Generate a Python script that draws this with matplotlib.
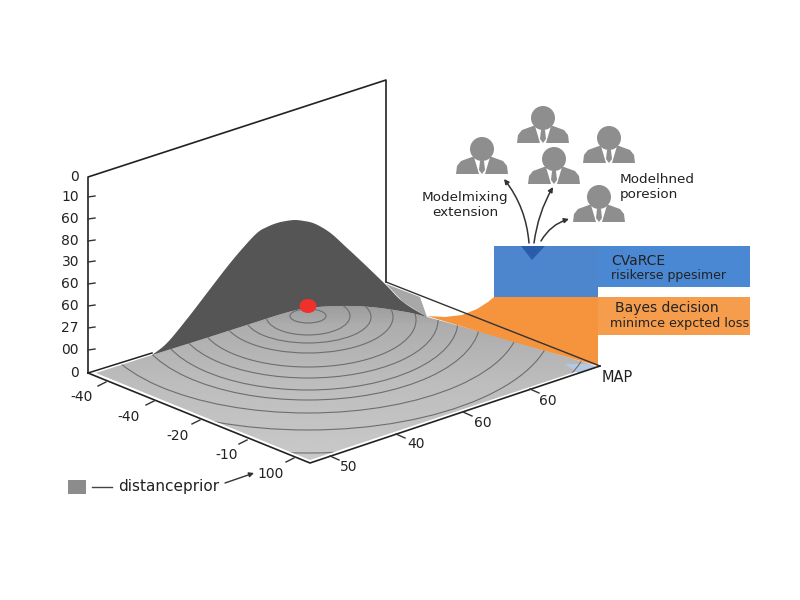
import numpy as np
import matplotlib
matplotlib.use('Agg')
from matplotlib import pyplot as plt
from matplotlib.patches import Polygon, Ellipse, Rectangle, FancyArrowPatch

# everything in pixels
wall_top = [(88, 373), (88, 177), (386, 80), (386, 282)]

z_ticks = [177, 197, 219, 241, 262, 284, 306, 328, 350, 373]
z_labels = ['0', '10', '60', '80', '30', '60', '60', '27', '00', '0']

left_labels = ['-40', '-40', '-20', '-10', '100']
left_pos = [(82, 397), (129, 417), (178, 436), (227, 455), (271, 474)]
left_ticks = [(106, 382), (154, 401), (200, 420), (247, 440), (294, 458)]
right_labels = ['50', '40', '60', '60']
right_pos = [(349, 467), (416, 444), (483, 423), (548, 401)]
right_ticks = [(330, 456), (396, 434), (463, 412), (530, 389)]

hump_top = [(152, 355), (167, 343), (187, 319), (207, 293), (227, 267), (242, 249), (257, 233),
            (267, 227), (277, 223), (286, 221), (295, 220), (304, 221), (313, 223), (323, 228),
            (333, 235), (346, 247), (360, 260), (385, 284), (403, 302), (427, 317)]
surf_top = [(152, 355), (200, 340), (250, 324), (285, 313), (308, 308), (340, 306), (370, 307),
            (400, 311), (427, 317), (520, 343), (590, 364)]
floor_low = [(590, 364), (584, 369), (310, 460), (96, 373), (152, 355)]
back_band = [(386, 284), (420, 297), (427, 317), (403, 302)]

ring_cy = [316, 316, 317, 317, 320, 320, 321, 321, 320, 322, 325]
ring_a = [18, 42, 63, 85, 108, 130, 150, 172, 212, 245, 285]
ring_b = [7, 19, 26, 36, 47, 58, 69, 79, 93, 108, 128]

orange_wedge = [(494, 297), (598, 297), (598, 366), (560, 355), (500, 338), (427, 316), (445, 317),
                (462, 315), (477, 309), (488, 302)]
blue_left = (494, 246, 104, 51)
blue_right = (598, 246, 152, 41)
orange_right = (598, 297, 152, 38)

people = [(482, 149), (543, 118), (609, 138), (554, 159), (599, 197)]
person_body = [(-26, 25), (-25, 17), (-21, 12), (-10, 8), (10, 8), (21, 12), (25, 17), (26, 25)]
person_shirt = [(-8, 8), (8, 8), (3, 25), (-3, 25)]
person_tie = [(-2, 12), (2, 12), (3, 21), (0, 25), (-3, 21)]

arrows = [((529, 243), (504, 179), 0.15), ((534, 243), (553, 187), -0.1), ((541, 241), (569, 219), -0.2)]


def smooth(pts, steps=8):
    # catmull-rom through the read points, only so outlines are not jagged
    p = np.array(pts, dtype=float)
    p = np.vstack([p[0], p, p[-1]])
    out = []
    for i in range(1, len(p) - 2):
        for t in np.linspace(0, 1, steps, endpoint=False):
            out.append(0.5 * (2 * p[i] + (p[i + 1] - p[i - 1]) * t
                              + (2 * p[i - 1] - 5 * p[i] + 4 * p[i + 1] - p[i + 2]) * t ** 2
                              + (3 * p[i] - p[i - 1] - 3 * p[i + 1] + p[i + 2]) * t ** 3))
    out.append(p[-1])
    return [tuple(q) for q in out]


fig = plt.figure(figsize=(8, 6), dpi=100)
ax = fig.add_axes([0, 0, 1, 1])
plt.rcParams['font.family'] = ['DejaVu Sans']

# surface with soft gradient
surf_edge = smooth(surf_top)
surf = Polygon(surf_edge + floor_low[1:], closed=True, fc='none', ec='none')
ax.add_patch(surf)
grad = np.interp(np.linspace(0, 1, 64), [0, 0.15, 0.5, 1], [0.60, 0.68, 0.74, 0.79]).reshape(-1, 1)
im = ax.imshow(grad, cmap='gray', vmin=0, vmax=1, extent=(80, 610, 465, 300), aspect='auto', zorder=2)
im.set_clip_path(surf)
ax.set_xlim(0, 800)
ax.set_ylim(600, 0)
ax.axis('off')

ax.add_patch(Polygon(back_band, closed=True, fc='#a8a8a8', ec='none', zorder=2))
ax.add_patch(Polygon([(565, 364), (590, 364), (597, 367), (578, 373)], closed=True, fc='#b4c8e0', ec='none', zorder=2))

# rings
for cy, a, b in zip(ring_cy, ring_a, ring_b):
    e = Ellipse((308, cy), 2 * a, 2 * b, fc='none', ec='#6e6e6e', lw=0.8, zorder=3)
    ax.add_patch(e)
    e.set_clip_path(surf)

# dark hump
ax.add_patch(Polygon(smooth(hump_top) + surf_edge[:65][::-1], closed=True, fc='#555555', ec='none', zorder=4))

# orange funnel over the surface
ax.add_patch(Polygon(orange_wedge, closed=True, fc='#f5943c', ec='none', zorder=5))

# axes lines
ax.plot(*zip(*wall_top), color='#222222', lw=1.2, zorder=6)
ax.plot([88, 152], [373, 353], color='#222222', lw=1.1, zorder=6)
ax.plot([386, 600], [282, 366], color='#333333', lw=1.0, zorder=6)
ax.plot([88, 310, 600], [373, 463, 366], color='#222222', lw=1.2, zorder=6)

for y, lab in zip(z_ticks, z_labels):
    if y not in (177, 373):
        ax.plot([88, 95], [y, y - 1], color='#333333', lw=1, zorder=6)
    ax.text(79, y, lab, ha='right', va='center', fontsize=10, color='#222222')

for (x, y), (tx, ty), lab in zip(left_ticks, left_pos, left_labels):
    ax.plot([x, x - 8], [y, y + 4], color='#333333', lw=1, zorder=6)
    ax.text(tx, ty, lab, ha='center', va='center', fontsize=10, color='#222222')
for (x, y), (tx, ty), lab in zip(right_ticks, right_pos, right_labels):
    ax.plot([x, x + 9], [y, y + 4], color='#333333', lw=1, zorder=6)
    ax.text(tx, ty, lab, ha='center', va='center', fontsize=10, color='#222222')
ax.text(617, 378, 'MAP', ha='center', va='center', fontsize=10.5, color='#222222')

# red point
ax.add_patch(Ellipse((308, 306), 17, 14, fc='#f0302a', ec='none', zorder=7))

# boxes
ax.add_patch(Rectangle(blue_left[:2], blue_left[2], blue_left[3], fc='#4d86cc', ec='none', zorder=5))
ax.add_patch(Rectangle(blue_right[:2], blue_right[2], blue_right[3], fc='#4a88d4', ec='none', zorder=5))
ax.add_patch(Rectangle(orange_right[:2], orange_right[2], orange_right[3], fc='#f59d4c', ec='none', zorder=5))
ax.add_patch(Polygon([(521, 246), (545, 246), (532, 260)], closed=True, fc='#2a5cab', ec='none', zorder=6))

ax.text(611, 261, 'CVaRCE', fontsize=10, va='center', color='#222222', zorder=7)
ax.text(611, 276, 'risikerse ppesimer', fontsize=9, va='center', color='#222222', zorder=7)
ax.text(615, 308, 'Bayes decision', fontsize=10, va='center', color='#222222', zorder=7)
ax.text(610, 323, 'minimce expcted loss', fontsize=9.2, va='center', color='#222222', zorder=7)

# people
for cx, cy in people:
    ax.add_patch(Polygon([(cx + dx, cy + dy) for dx, dy in person_body], closed=True, fc='#8e8e8e', ec='none', zorder=3))
    ax.add_patch(Polygon([(cx + dx, cy + dy) for dx, dy in person_shirt], closed=True, fc='white', ec='none', zorder=4))
    ax.add_patch(Polygon([(cx + dx, cy + dy) for dx, dy in person_tie], closed=True, fc='#8e8e8e', ec='none', zorder=5))
    ax.add_patch(Ellipse((cx, cy), 24, 24, fc='#8e8e8e', ec='none', zorder=5))

for start, end, rad in arrows:
    ax.add_patch(FancyArrowPatch(start, end, connectionstyle='arc3,rad=%s' % rad, arrowstyle='-|>',
                                 mutation_scale=7, lw=1.1, color='#333333', zorder=6, shrinkA=0, shrinkB=0))

ax.text(465, 205, 'Modelmixing\nextension', ha='center', va='center', fontsize=9.7, color='#222222', linespacing=1.15)
ax.text(620, 187, 'Modelhned\nporesion', ha='left', va='center', fontsize=9.7, color='#222222', linespacing=1.15)

# legend
ax.add_patch(Rectangle((68, 480), 18, 14, fc='#8c8c8c', ec='none'))
ax.plot([92, 112], [487, 487], color='#444444', lw=1)
ax.text(118, 487, 'distanceprior', va='center', fontsize=11, color='#222222')
ax.add_patch(FancyArrowPatch((225, 483), (254, 473), arrowstyle='-|>', mutation_scale=7, lw=1, color='#333333', shrinkA=0, shrinkB=0))

fig.savefig('out.png', dpi=100)
